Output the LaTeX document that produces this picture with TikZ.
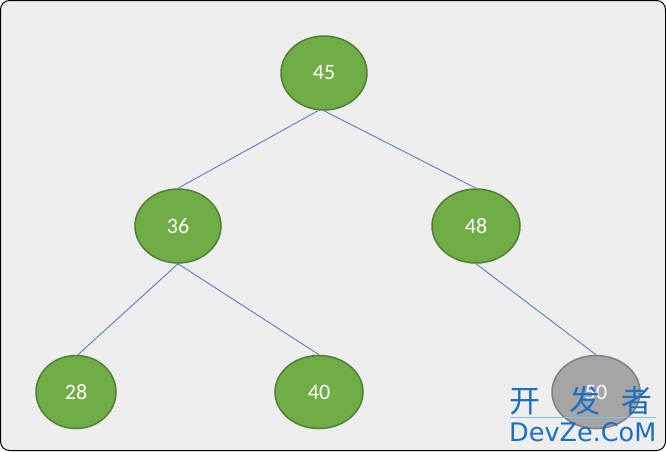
\documentclass[tikz,border=0pt]{standalone}
\usepackage{fontspec}
\setmainfont{Carlito}
\newfontfamily\cjk{Noto Sans CJK SC}
\newfontfamily\wmfont{DejaVu Sans}
\definecolor{bgc}{HTML}{EEEEEE}
\definecolor{gfill}{HTML}{70AD47}
\definecolor{gline}{HTML}{507E32}
\definecolor{grfill}{HTML}{A5A5A5}
\definecolor{grline}{HTML}{7F7F7F}
\definecolor{edgec}{HTML}{4472C4}
\definecolor{wmblue}{HTML}{1A6FC4}
\definecolor{wmline}{HTML}{7FC4F0}
\tikzset{
  gnode/.style={ellipse, draw=gline, fill=gfill, line width=1.5pt, text=white, font=\fontsize{22}{22}\selectfont, inner sep=0pt},
  grnode/.style={ellipse, draw=grline, fill=grfill, line width=1.5pt, text=white, font=\fontsize{22}{22}\selectfont, inner sep=0pt},
  edge/.style={draw=edgec, line width=0.8pt},
}
\usetikzlibrary{shapes.geometric}
\begin{document}
\begin{tikzpicture}[x=1pt,y=-1pt]
\useasboundingbox (0,0) rectangle (666,451);
\draw[fill=bgc, draw=black, line width=1pt, rounded corners=9pt] (0.5,0.5) rectangle (665.5,450.5);
\node[gnode, minimum width=86pt, minimum height=74pt] (n45) at (324,73) {45};
\node[gnode, minimum width=86pt, minimum height=74pt] (n36) at (178,226) {36};
\node[gnode, minimum width=88pt, minimum height=74pt] (n48) at (476,226) {48};
\node[gnode, minimum width=80pt, minimum height=73pt] (n28) at (76,392) {28};
\node[gnode, minimum width=88pt, minimum height=73pt] (n40) at (319,392) {40};
\node[grnode, minimum width=88pt, minimum height=73pt] (n50) at (596,392) {50};
\draw[edge] ([xshift=-6pt]n45.south) -- (n36.north);
\draw[edge] (n45.south) -- (n48.north);
\draw[edge] (n36.south) -- ([xshift=2pt]n28.north);
\draw[edge] (n36.south) -- (n40.north);
\draw[edge] (n48.south) -- (n50.north);
% watermark
\node[text=wmblue, font=\cjk\fontsize{31}{31}\selectfont, anchor=base west, inner sep=0pt] (wm1) at (509,412) {开};
\node[text=wmblue, font=\cjk\fontsize{31}{31}\selectfont, anchor=base west, inner sep=0pt] (wm2) at (569,412) {发};
\node[text=wmblue, font=\cjk\fontsize{31}{31}\selectfont, anchor=base west, inner sep=0pt] (wm3) at (621,412) {者};
\coordinate (wl1) at (510,417);
\coordinate (wl2) at (656,417);
\draw[wmline, line width=0.8pt] (wl1) -- (wl2);
\node[text=wmblue, font=\wmfont\fontsize{25.5}{25.5}\selectfont, anchor=base west, inner sep=0pt] (wm4) at (509,441) {DevZe.CoM};
\end{tikzpicture}
\end{document}
